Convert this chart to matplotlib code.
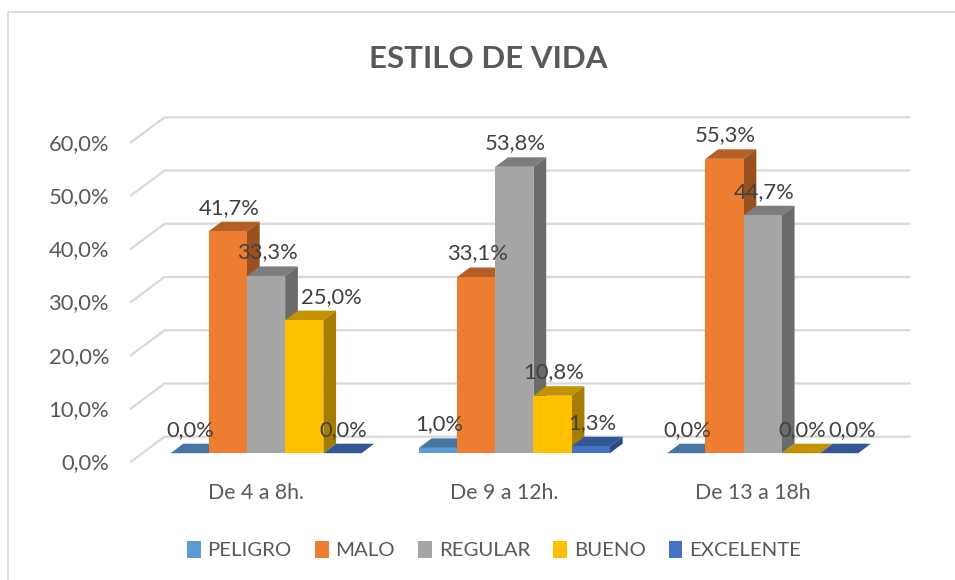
import matplotlib
matplotlib.use("Agg")
import matplotlib.pyplot as plt
from matplotlib.colors import to_rgb
from matplotlib.lines import Line2D
from matplotlib.patches import Patch

plt.rcParams["font.family"] = ["Lato", "DejaVu Sans"]

categories = ["De 4 a 8h.", "De 9 a 12h.", "De 13 a 18h"]
series_names = ["PELIGRO", "MALO", "REGULAR", "BUENO", "EXCELENTE"]
peligro = [0.0, 1.0, 0.0]
malo = [41.7, 33.1, 55.3]
regular = [33.3, 53.8, 44.7]
bueno = [25.0, 10.8, 0.0]
excelente = [0.0, 1.3, 0.0]
y_ticks = [0, 10, 20, 30, 40, 50, 60]

series = [peligro, malo, regular, bueno, excelente]
colors = ["#5B9BD5", "#ED7D31", "#A5A5A5", "#FFC000", "#4472C4"]

W, H = 955, 580
fig = plt.figure(figsize=(W / 100, H / 100), dpi=100)

# front plane of the fake 3D box, in pixels
left, right, bottom, top = 131, 876, 461.7, 142.3
ax = fig.add_axes([left / W, 1 - bottom / H, (right - left) / W, (bottom - top) / H])
ax.set_xlim(-0.5, 2.5)
ax.set_ylim(0, 60)
ax.axis("off")

# depth of the box in data units
px_x = 3 / (right - left)
px_y = 60 / (bottom - top)
box_dx = 33.5 * px_x
box_dy = 25 * px_y
bar_w = 38.2 * px_x
bar_d0 = 0.34
bar_d1 = 0.72


def shade(color, k):
    return tuple(c * k for c in to_rgb(color))


# grid
for t in y_ticks:
    ax.plot([-0.5, -0.5 + box_dx, 2.5 + box_dx], [t, t + box_dy, t + box_dy],
            color="#D9D9D9", lw=1.6, clip_on=False, zorder=1)
    ax.text(-0.5 - 22 * px_x, t - 1.5 * px_y, f"{t},0%", ha="right", va="center",
            fontsize=15.8, color="#595959")

for i, cat in enumerate(categories):
    ax.text(i + 1 * px_x, -31 * px_y, cat, ha="center", va="center",
            fontsize=15.3, color="#595959")

# bars, drawn left to right so the next one hides the side of the previous
x0 = bar_d0 * box_dx
y0 = bar_d0 * box_dy
ddx = (bar_d1 - bar_d0) * box_dx
ddy = (bar_d1 - bar_d0) * box_dy
for i in range(len(categories)):
    for s, vals in enumerate(series):
        v = vals[i]
        c = colors[s]
        xl = i + (s - 2.5) * bar_w + x0 - 0.5 * px_x
        xr = xl + bar_w
        ax.fill([xl, xr, xr + ddx, xl + ddx], [y0 + v, y0 + v, y0 + v + ddy, y0 + v + ddy],
                color=shade(c, 0.76), lw=0, clip_on=False, zorder=2)
        ax.fill([xr, xr + ddx, xr + ddx, xr], [y0, y0 + ddy, y0 + v + ddy, y0 + v],
                color=shade(c, 0.65), lw=0, clip_on=False, zorder=2)
        ax.bar(xl, v, bar_w, bottom=y0, align="edge", color=c, lw=0, clip_on=False, zorder=2)

# data labels, two of them were moved by hand in the original
shifts = {(0, 3): 27, (2, 4): 13}
for i in range(len(categories)):
    for s, vals in enumerate(series):
        v = vals[i]
        xc = i + (s - 2) * bar_w + x0 + shifts.get((i, s), 0.5) * px_x
        ax.text(xc, y0 + v + 23.5 * px_y, f"{v:.1f}%".replace(".", ","), ha="center", va="center",
                fontsize=15.8, color="#404040", zorder=5, clip_on=False)

fig.text(488.5 / W, 1 - 59 / H, "ESTILO DE VIDA", ha="center", va="center",
         fontsize=22.5, fontweight="bold", color="#595959")

handles = [Patch(facecolor=c, edgecolor="none") for c in colors]
fig.legend(handles, series_names, loc="center", bbox_to_anchor=(494 / W, 1 - 550 / H), ncol=5,
           frameon=False, fontsize=14.7, labelcolor="#595959", handlelength=0.68, handleheight=0.9,
           handletextpad=0.34, columnspacing=1.12)

# outer border of the chart, only the sides that show in the screenshot
fig.add_artist(Line2D([7.5 / W, 7.5 / W, 955 / W], [0, 1 - 11.7 / H, 1 - 11.7 / H],
                      color="#D9D9D9", lw=1.3))

fig.savefig("out.png", dpi=100)
